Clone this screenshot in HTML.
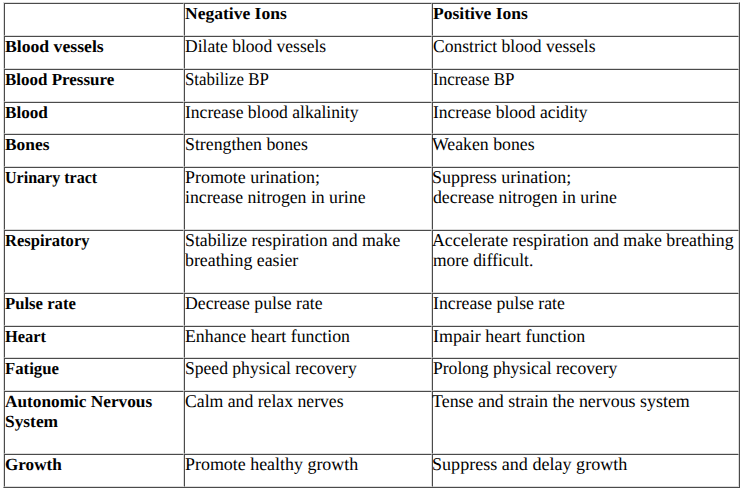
<!DOCTYPE html>
<html><head><meta charset='utf-8'><title>Negative vs Positive Ions</title>
<style>
html,body{margin:0;padding:0;background:#fff;}
body{width:743px;height:491px;position:relative;overflow:hidden;text-rendering:geometricPrecision;font-family:"Liberation Serif",serif;font-size:17px;color:#000;}
.c{position:absolute;box-sizing:border-box;border:1px solid;border-color:#4a4a4a #dcdcdc #dcdcdc #4a4a4a;}
.tb{position:absolute;box-sizing:border-box;border:1px solid;border-color:#dcdcdc #4a4a4a #4a4a4a #dcdcdc;}
.l{position:absolute;background:#4a4a4a;}
.t{position:absolute;white-space:nowrap;line-height:20px;height:20px;transform-origin:0 0;font-size:18px;}
.b{font-weight:bold;font-size:17px;}
</style></head><body>
<div class='c' style='left:4px;top:3px;width:180px;height:33px'></div>
<div class='c' style='left:184px;top:3px;width:248px;height:33px'></div>
<div class='c' style='left:432px;top:3px;width:307px;height:33px'></div>
<div class='c' style='left:4px;top:36px;width:180px;height:33px'></div>
<div class='c' style='left:184px;top:36px;width:248px;height:33px'></div>
<div class='c' style='left:432px;top:36px;width:307px;height:33px'></div>
<div class='c' style='left:4px;top:69px;width:180px;height:33px'></div>
<div class='c' style='left:184px;top:69px;width:248px;height:33px'></div>
<div class='c' style='left:432px;top:69px;width:307px;height:33px'></div>
<div class='c' style='left:4px;top:102px;width:180px;height:32px'></div>
<div class='c' style='left:184px;top:102px;width:248px;height:32px'></div>
<div class='c' style='left:432px;top:102px;width:307px;height:32px'></div>
<div class='c' style='left:4px;top:134px;width:180px;height:33px'></div>
<div class='c' style='left:184px;top:134px;width:248px;height:33px'></div>
<div class='c' style='left:432px;top:134px;width:307px;height:33px'></div>
<div class='c' style='left:4px;top:167px;width:180px;height:63px'></div>
<div class='c' style='left:184px;top:167px;width:248px;height:63px'></div>
<div class='c' style='left:432px;top:167px;width:307px;height:63px'></div>
<div class='c' style='left:4px;top:230px;width:180px;height:63px'></div>
<div class='c' style='left:184px;top:230px;width:248px;height:63px'></div>
<div class='c' style='left:432px;top:230px;width:307px;height:63px'></div>
<div class='c' style='left:4px;top:293px;width:180px;height:33px'></div>
<div class='c' style='left:184px;top:293px;width:248px;height:33px'></div>
<div class='c' style='left:432px;top:293px;width:307px;height:33px'></div>
<div class='c' style='left:4px;top:326px;width:180px;height:32px'></div>
<div class='c' style='left:184px;top:326px;width:248px;height:32px'></div>
<div class='c' style='left:432px;top:326px;width:307px;height:32px'></div>
<div class='c' style='left:4px;top:358px;width:180px;height:33px'></div>
<div class='c' style='left:184px;top:358px;width:248px;height:33px'></div>
<div class='c' style='left:432px;top:358px;width:307px;height:33px'></div>
<div class='c' style='left:4px;top:391px;width:180px;height:63px'></div>
<div class='c' style='left:184px;top:391px;width:248px;height:63px'></div>
<div class='c' style='left:432px;top:391px;width:307px;height:63px'></div>
<div class='c' style='left:4px;top:454px;width:180px;height:33px'></div>
<div class='c' style='left:184px;top:454px;width:248px;height:33px'></div>
<div class='c' style='left:432px;top:454px;width:307px;height:33px'></div>
<div class='tb' style='left:3px;top:2px;width:737px;height:486px'></div>
<div class='t b' style='left:184.60px;top:3.50px;transform:scaleX(1.0314)'>Negative Ions</div>
<div class='t b' style='left:432.60px;top:3.50px;transform:scaleX(1.0305)'>Positive Ions</div>
<div class='t b' style='left:4.60px;top:36.50px;transform:scaleX(1.0396)'>Blood vessels</div>
<div class='t' style='left:184.70px;top:36.00px;transform:scaleX(0.9739)'>Dilate blood vessels</div>
<div class='t' style='left:432.70px;top:36.00px;transform:scaleX(0.9731)'>Constrict blood vessels</div>
<div class='t b' style='left:4.60px;top:69.50px;transform:scaleX(0.9981)'>Blood Pressure</div>
<div class='t' style='left:184.70px;top:69.00px;transform:scaleX(0.9363)'>Stabilize BP</div>
<div class='t' style='left:432.70px;top:69.00px;transform:scaleX(0.9425)'>Increase BP</div>
<div class='t b' style='left:5.00px;top:102.50px;transform:scaleX(1.0087)'>Blood</div>
<div class='t' style='left:184.70px;top:102.00px;transform:scaleX(0.9751)'>Increase blood alkalinity</div>
<div class='t' style='left:432.70px;top:102.00px;transform:scaleX(0.9721)'>Increase blood acidity</div>
<div class='t b' style='left:5.00px;top:134.50px;transform:scaleX(1.0214)'>Bones</div>
<div class='t' style='left:184.70px;top:134.00px;transform:scaleX(0.9873)'>Strengthen bones</div>
<div class='t' style='left:431.70px;top:134.00px;transform:scaleX(0.9864)'>Weaken bones</div>
<div class='t b' style='left:5.00px;top:167.50px;transform:scaleX(0.9435)'>Urinary tract</div>
<div class='t' style='left:184.70px;top:167.00px;transform:scaleX(0.9957)'>Promote urination;</div>
<div class='t' style='left:184.70px;top:187.00px;transform:scaleX(0.9840)'>increase nitrogen in urine</div>
<div class='t' style='left:432.20px;top:167.00px;transform:scaleX(0.9978)'>Suppress urination;</div>
<div class='t' style='left:432.70px;top:187.00px;transform:scaleX(0.9859)'>decrease nitrogen in urine</div>
<div class='t b' style='left:4.60px;top:230.50px;transform:scaleX(0.9727)'>Respiratory</div>
<div class='t' style='left:184.70px;top:230.00px;transform:scaleX(0.9866)'>Stabilize respiration and make</div>
<div class='t' style='left:184.70px;top:250.00px;transform:scaleX(0.9899)'>breathing easier</div>
<div class='t' style='left:432.20px;top:230.00px;transform:scaleX(0.9893)'>Accelerate respiration and make breathing</div>
<div class='t' style='left:432.70px;top:250.00px;transform:scaleX(0.9678)'>more difficult.</div>
<div class='t b' style='left:4.60px;top:293.50px;transform:scaleX(0.9815)'>Pulse rate</div>
<div class='t' style='left:184.70px;top:293.00px;transform:scaleX(0.9834)'>Decrease pulse rate</div>
<div class='t' style='left:432.70px;top:293.00px;transform:scaleX(0.9849)'>Increase pulse rate</div>
<div class='t b' style='left:4.60px;top:326.50px;transform:scaleX(0.9674)'>Heart</div>
<div class='t' style='left:184.70px;top:326.00px;transform:scaleX(0.9885)'>Enhance heart function</div>
<div class='t' style='left:432.70px;top:326.00px;transform:scaleX(0.9944)'>Impair heart function</div>
<div class='t b' style='left:4.60px;top:358.50px;transform:scaleX(0.9839)'>Fatigue</div>
<div class='t' style='left:184.70px;top:358.00px;transform:scaleX(0.9759)'>Speed physical recovery</div>
<div class='t' style='left:432.70px;top:358.00px;transform:scaleX(0.9759)'>Prolong physical recovery</div>
<div class='t b' style='left:4.60px;top:391.50px;transform:scaleX(1.0147)'>Autonomic Nervous</div>
<div class='t b' style='left:4.60px;top:411.50px;transform:scaleX(1.0221)'>System</div>
<div class='t' style='left:184.70px;top:391.00px;transform:scaleX(0.9824)'>Calm and relax nerves</div>
<div class='t' style='left:432.20px;top:391.00px;transform:scaleX(0.9946)'>Tense and strain the nervous system</div>
<div class='t b' style='left:4.60px;top:454.50px;transform:scaleX(1.0060)'>Growth</div>
<div class='t' style='left:184.70px;top:454.00px;transform:scaleX(0.9955)'>Promote healthy growth</div>
<div class='t' style='left:432.10px;top:454.00px;transform:scaleX(1.0043)'>Suppress and delay growth</div>
</body></html>
